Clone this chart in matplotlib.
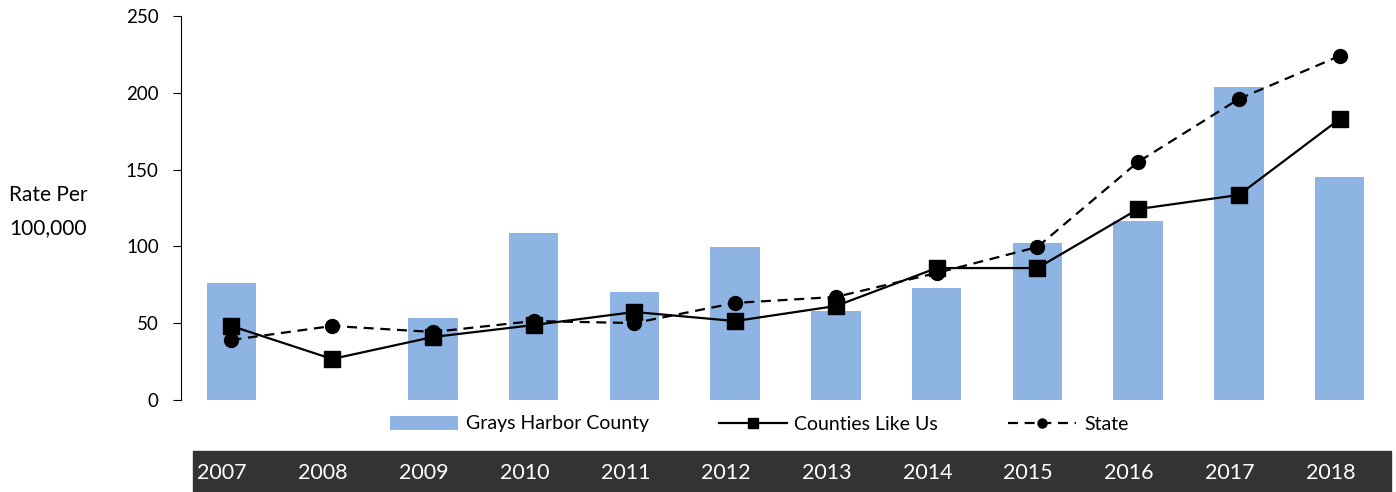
import numpy as np
import matplotlib
matplotlib.use("Agg")
import matplotlib.pyplot as plt
from matplotlib.patches import Rectangle
from matplotlib.transforms import blended_transform_factory

plt.rcParams['font.family'] = ['Lato', 'DejaVu Sans']

years = ['2007', '2008', '2009', '2010', '2011', '2012',
         '2013', '2014', '2015', '2016', '2017', '2018']
grays_harbor = [76.2, 0, 53.4, 108.7, 70.3, 99.6, 57.9, 72.9, 102.2, 116.5, 203.8, 145.2]
counties_like_us = [48.2, 26.7, 41.0, 48.8, 57.3, 51.4, 61.2, 85.9, 85.9, 124.3, 133.5, 182.9]
state = [39.1, 48.2, 44.3, 51.4, 50.1, 63.2, 67.1, 82.7, 99.6, 155.0, 196.0, 224.0]

W, H = 1396, 492
fig = plt.figure(figsize=(W / 100, H / 100), dpi=100)
ax = fig.add_axes([181 / W, 1 - 400 / H, (1390 - 181) / W, (400 - 16) / H])

x = np.arange(len(years))
bars = ax.bar(x, grays_harbor, width=0.49, color='#8EB4E3', label='Grays Harbor County', zorder=1)
l1, = ax.plot(x, counties_like_us, color='black', lw=1.6, marker='s', markersize=11,
              label='Counties Like Us', zorder=3)
l2, = ax.plot(x, state, color='black', lw=1.6, ls=(0, (4.5, 3)), marker='o', markersize=10,
              label='State', zorder=3)

ax.set_xlim(-0.5, 11.5)
ax.set_ylim(0, 250)
ax.set_yticks([0, 50, 100, 150, 200, 250])
ax.set_xticks([])
for s in ['top', 'right', 'bottom']:
    ax.spines[s].set_visible(False)
ax.spines['left'].set_linewidth(0.8)
ax.tick_params(axis='y', labelsize=13.5, length=6, width=0.8, pad=10)

fig.text(9 / W, 1 - 195 / H, 'Rate Per', fontsize=15, va='center', ha='left')
fig.text(9 / W, 1 - 228 / H, '100,000', fontsize=15, va='center', ha='left')

leg = fig.legend(handles=[bars, l1, l2], loc='center', ncol=3, frameon=False,
                 bbox_to_anchor=(759 / W, 1 - 424 / H), fontsize=14, markerscale=0.65,
                 handlelength=3.5, columnspacing=3.6, handletextpad=0.4)

# dark band with years
fig.patches.append(Rectangle((193 / W, 0), (1391 - 193) / W, (492 - 451) / H,
                             transform=fig.transFigure, color='#333333', zorder=0))
tr = blended_transform_factory(ax.transData, fig.transFigure)
for i, yr in enumerate(years):
    fig.text(i - 0.09, 1 - 473 / H, yr, transform=tr, color='white', fontsize=15.5,
             ha='center', va='center')

fig.savefig('out.png', dpi=100)
